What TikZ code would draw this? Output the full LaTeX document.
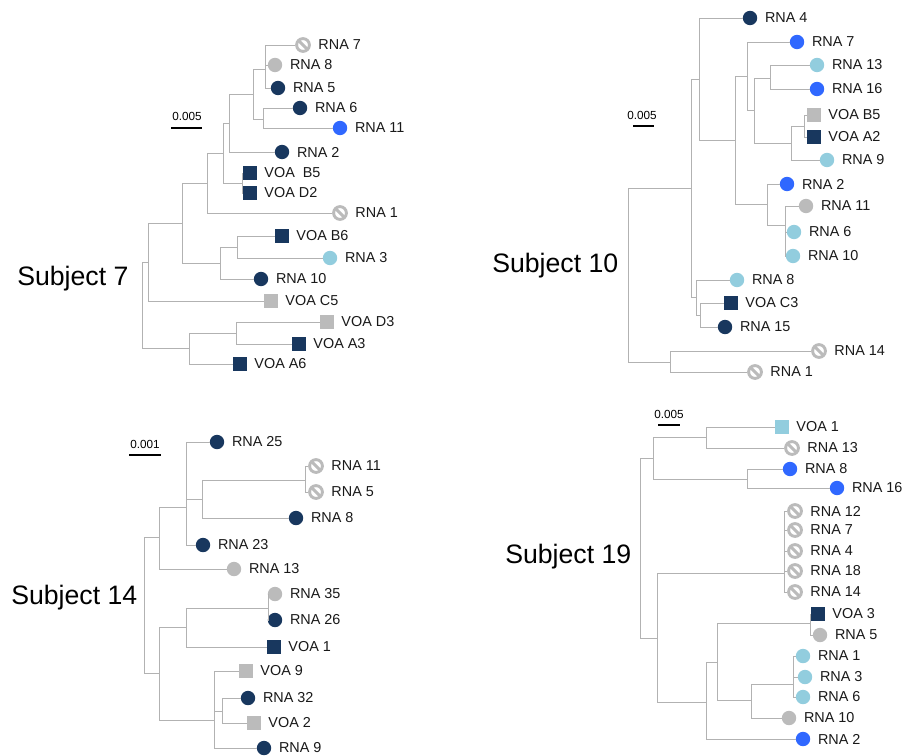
\documentclass[tikz,border=0pt]{standalone}
\usepackage{fontspec}
\setmainfont{Liberation Sans}
\usepackage{xcolor}
\usepackage{tikz}

\definecolor{navy}{RGB}{24,55,94}
\definecolor{vivid}{RGB}{48,104,255}
\definecolor{pale}{RGB}{146,205,222}
\definecolor{ash}{RGB}{187,187,187}
\definecolor{twig}{RGB}{178,178,178}

\begin{document}
\begin{tikzpicture}[x=0.75pt,y=-0.75pt,font=\fontsize{10.8}{12}\selectfont,
  label distance=4.5pt,
  every label/.style={inner sep=1pt,text=black!90},
  br/.style={draw=twig,line width=0.7pt},
  dot/.style={circle,inner sep=0pt,minimum size=10.8pt},
  sq/.style={rectangle,inner sep=0pt,minimum size=9.9pt},
  dnv/.style={dot,fill=navy,label={right:#1}},
  dbl/.style={dot,fill=vivid,label={right:#1}},
  dcy/.style={dot,fill=pale,label={right:#1}},
  dgy/.style={dot,fill=ash,label={right:#1}},
  snv/.style={sq,fill=navy,label={right:#1}},
  sgy/.style={sq,fill=ash,label={right:#1}},
  scy/.style={sq,fill=pale,label={right:#1}},
  nil/.style={circle,draw=ash,line width=2.2pt,inner sep=0pt,minimum size=9.6pt,
    path picture={\draw[ash,line width=2.2pt] (path picture bounding box.north west) -- (path picture bounding box.south east);},
    label={right:#1}},
  subj/.style={font=\fontsize{20}{24}\selectfont,anchor=west,inner sep=0pt},
  scl/.style={font=\fontsize{8.8}{10}\selectfont,inner sep=0pt},
  bar/.style={line width=2.2pt,black}]
  \useasboundingbox (0,0) rectangle (906,756);

  % Subject 7
  \node[subj] (s7) at (17,279) {Subject 7};
  \node[scl] (k7) at (187,116) {0.005};
  \draw[bar] (171,128) -- (202,128);
  \node[nil={RNA 7}] (r7a) at (303,45) {};
  \node[dgy={RNA 8}] (r8a) at (275,65) {};
  \node[dnv={RNA 5}] (r5a) at (278,88) {};
  \node[dnv={RNA 6}] (r6a) at (300,108) {};
  \node[dbl={RNA 11}] (r11a) at (340,128) {};
  \node[dnv={RNA 2}] (r2a) at (282,152) {};
  \node[snv={VOA\ \ B5}] (vb5a) at (250,173) {};
  \node[snv={VOA D2}] (vd2a) at (250,193) {};
  \node[nil={RNA 1}] (r1a) at (340,213) {};
  \node[snv={VOA B6}] (vb6a) at (282,236) {};
  \node[dcy={RNA 3}] (r3a) at (330,258) {};
  \node[dnv={RNA 10}] (r10a) at (261,279) {};
  \node[sgy={VOA C5}] (vc5a) at (271,301) {};
  \node[sgy={VOA D3}] (vd3a) at (327,322) {};
  \node[snv={VOA A3}] (va3a) at (299,344) {};
  \node[snv={VOA A6}] (va6a) at (240,364) {};
  \coordinate (a1) at (265,69);
  \coordinate (a2) at (263,119);
  \coordinate (a3) at (253,94);
  \coordinate (a4) at (229,123);
  \coordinate (a5) at (242,183);
  \coordinate (a6) at (223,153);
  \coordinate (a7) at (207,183);
  \coordinate (a8) at (237,247);
  \coordinate (a9) at (220,263);
  \coordinate (a10) at (182,223);
  \coordinate (a11) at (148,262);
  \coordinate (a12) at (236,333);
  \coordinate (a13) at (189,348);
  \coordinate (a14) at (142,305);
  \draw[br] (a1) |- (r7a) (a1) |- (r8a) (a1) |- (r5a);
  \draw[br] (a2) |- (r6a) (a2) |- (r11a);
  \draw[br] (a3) |- (a1) (a3) |- (a2);
  \draw[br] (a4) |- (a3) (a4) |- (r2a);
  \draw[br] (a5) |- (vb5a) (a5) |- (vd2a);
  \draw[br] (a6) |- (a4) (a6) |- (a5);
  \draw[br] (a7) |- (a6) (a7) |- (r1a);
  \draw[br] (a8) |- (vb6a) (a8) |- (r3a);
  \draw[br] (a9) |- (a8) (a9) |- (r10a);
  \draw[br] (a10) |- (a7) (a10) |- (a9);
  \draw[br] (a11) |- (a10) (a11) |- (vc5a);
  \draw[br] (a12) |- (vd3a) (a12) |- (va3a);
  \draw[br] (a13) |- (a12) (a13) |- (va6a);
  \draw[br] (a14) |- (a11) (a14) |- (a13);

  % Subject 10
  \node[subj] (s10) at (492,266) {Subject 10};
  \node[scl] (k10) at (642,115) {0.005};
  \draw[bar] (633,126) -- (654,126);
  \node[dnv={RNA 4}] (r4b) at (750,18) {};
  \node[dbl={RNA 7}] (r7b) at (797,42) {};
  \node[dcy={RNA 13}] (r13b) at (817,65) {};
  \node[dbl={RNA 16}] (r16b) at (817,89) {};
  \node[sgy={VOA B5}] (vb5b) at (814,115) {};
  \node[snv={VOA A2}] (va2b) at (814,137) {};
  \node[dcy={RNA 9}] (r9b) at (827,160) {};
  \node[dbl={RNA 2}] (r2b) at (787,184) {};
  \node[dgy={RNA 11}] (r11b) at (806,206) {};
  \node[dcy={RNA 6}] (r6b) at (794,232) {};
  \node[dcy={RNA 10}] (r10b) at (793,256) {};
  \node[dcy={RNA 8}] (r8b) at (737,280) {};
  \node[snv={VOA C3}] (vc3b) at (731,303) {};
  \node[dnv={RNA 15}] (r15b) at (725,327) {};
  \node[nil={RNA 14}] (r14b) at (819,351) {};
  \node[nil={RNA 1}] (r1b) at (755,372) {};
  \coordinate (b1) at (770,78);
  \coordinate (b2) at (804,126);
  \coordinate (b3) at (791,143);
  \coordinate (b4) at (754,110);
  \coordinate (b5) at (747,76);
  \coordinate (b6) at (785,225);
  \coordinate (b7) at (767,204);
  \coordinate (b8) at (735,140);
  \coordinate (b9) at (699,79);
  \coordinate (b10) at (700,315);
  \coordinate (b11) at (696,297);
  \coordinate (b12) at (691,188);
  \coordinate (b13) at (670,362);
  \coordinate (b14) at (628,275);
  \draw[br] (b1) |- (r13b) (b1) |- (r16b);
  \draw[br] (b2) |- (vb5b) (b2) |- (va2b);
  \draw[br] (b3) |- (b2) (b3) |- (r9b);
  \draw[br] (b4) |- (b1) (b4) |- (b3);
  \draw[br] (b5) |- (r7b) (b5) |- (b4);
  \draw[br] (b6) |- (r11b) (b6) |- (r6b) (b6) |- (r10b);
  \draw[br] (b7) |- (r2b) (b7) |- (b6);
  \draw[br] (b8) |- (b5) (b8) |- (b7);
  \draw[br] (b9) |- (r4b) (b9) |- (b8);
  \draw[br] (b10) |- (vc3b) (b10) |- (r15b);
  \draw[br] (b11) |- (r8b) (b11) |- (b10);
  \draw[br] (b12) |- (b9) (b12) |- (b11);
  \draw[br] (b13) |- (r14b) (b13) |- (r1b);
  \draw[br] (b14) |- (b12) (b14) |- (b13);

  % Subject 14
  \node[subj] (s14) at (11,598) {Subject 14};
  \node[scl] (k14) at (145,444) {0.001};
  \draw[bar] (129,455) -- (161,455);
  \node[dnv={RNA 25}] (r25c) at (217,442) {};
  \node[nil={RNA 11}] (r11c) at (316,466) {};
  \node[nil={RNA 5}] (r5c) at (316,492) {};
  \node[dnv={RNA 8}] (r8c) at (296,518) {};
  \node[dnv={RNA 23}] (r23c) at (203,545) {};
  \node[dgy={RNA 13}] (r13c) at (234,569) {};
  \node[dgy={RNA 35}] (r35c) at (275,594) {};
  \node[dnv={RNA 26}] (r26c) at (275,620) {};
  \node[snv={VOA 1}] (v1c) at (274,647) {};
  \node[sgy={VOA 9}] (v9c) at (246,671) {};
  \node[dnv={RNA 32}] (r32c) at (248,698) {};
  \node[sgy={VOA 2}] (v2c) at (254,723) {};
  \node[dnv={RNA 9}] (r9c) at (264,748) {};
  \coordinate (c1) at (305,480);
  \coordinate (c2) at (202,499);
  \coordinate (c3) at (186,507);
  \coordinate (c4) at (159,537);
  \coordinate (c5) at (268,608);
  \coordinate (c6) at (186,627);
  \coordinate (c7) at (222,711);
  \coordinate (c8) at (214,720);
  \coordinate (c9) at (159,673);
  \coordinate (c10) at (144,605);
  \draw[br] (c1) |- (r11c) (c1) |- (r5c);
  \draw[br] (c2) |- (c1) (c2) |- (r8c);
  \draw[br] (c3) |- (r25c) (c3) |- (c2) (c3) |- (r23c);
  \draw[br] (c4) |- (c3) (c4) |- (r13c);
  \draw[br] (c5) |- (r35c) (c5) |- (r26c);
  \draw[br] (c6) |- (c5) (c6) |- (v1c);
  \draw[br] (c7) |- (r32c) (c7) |- (v2c);
  \draw[br] (c8) |- (v9c) (c8) |- (c7) (c8) |- (r9c);
  \draw[br] (c9) |- (c6) (c9) |- (c8);
  \draw[br] (c10) |- (c4) (c10) |- (c9);

  % Subject 19
  \node[subj] (s19) at (505,557) {Subject 19};
  \node[scl] (k19) at (669,414) {0.005};
  \draw[bar] (658,425) -- (680,425);
  \node[scy={VOA 1}] (v1d) at (782,427) {};
  \node[nil={RNA 13}] (r13d) at (792,448) {};
  \node[dbl={RNA 8}] (r8d) at (790,469) {};
  \node[dbl={RNA 16}] (r16d) at (837,488) {};
  \node[nil={RNA 12}] (r12d) at (795,511) {};
  \node[nil={RNA 7}] (r7d) at (795,530) {};
  \node[nil={RNA 4}] (r4d) at (795,551) {};
  \node[nil={RNA 18}] (r18d) at (795,571) {};
  \node[nil={RNA 14}] (r14d) at (795,592) {};
  \node[snv={VOA 3}] (v3d) at (818,614) {};
  \node[dgy={RNA 5}] (r5d) at (820,635) {};
  \node[dcy={RNA 1}] (r1d) at (803,656) {};
  \node[dcy={RNA 3}] (r3d) at (805,677) {};
  \node[dcy={RNA 6}] (r6d) at (803,697) {};
  \node[dgy={RNA 10}] (r10d) at (789,718) {};
  \node[dbl={RNA 2}] (r2d) at (803,739) {};
  \coordinate (d1) at (706,437);
  \coordinate (d2) at (747,479);
  \coordinate (d3) at (653,458);
  \coordinate (d4) at (784,573);
  \coordinate (d5) at (810,623);
  \coordinate (d6) at (793,684);
  \coordinate (d7) at (751,700);
  \coordinate (d8) at (717,662);
  \coordinate (d9) at (706,702);
  \coordinate (d10) at (657,638);
  \coordinate (d11) at (640,548);
  \draw[br] (d1) |- (v1d) (d1) |- (r13d);
  \draw[br] (d2) |- (r8d) (d2) |- (r16d);
  \draw[br] (d3) |- (d1) (d3) |- (d2);
  \draw[br] (d4) |- (r12d) (d4) |- (r7d) (d4) |- (r4d) (d4) |- (r18d) (d4) |- (r14d);
  \draw[br] (d5) |- (v3d) (d5) |- (r5d);
  \draw[br] (d6) |- (r1d) (d6) |- (r3d) (d6) |- (r6d);
  \draw[br] (d7) |- (d6) (d7) |- (r10d);
  \draw[br] (d8) |- (d5) (d8) |- (d7);
  \draw[br] (d9) |- (d8) (d9) |- (r2d);
  \draw[br] (d10) |- (d4) (d10) |- (d9);
  \draw[br] (d11) |- (d3) (d11) |- (d10);
\end{tikzpicture}
\end{document}
